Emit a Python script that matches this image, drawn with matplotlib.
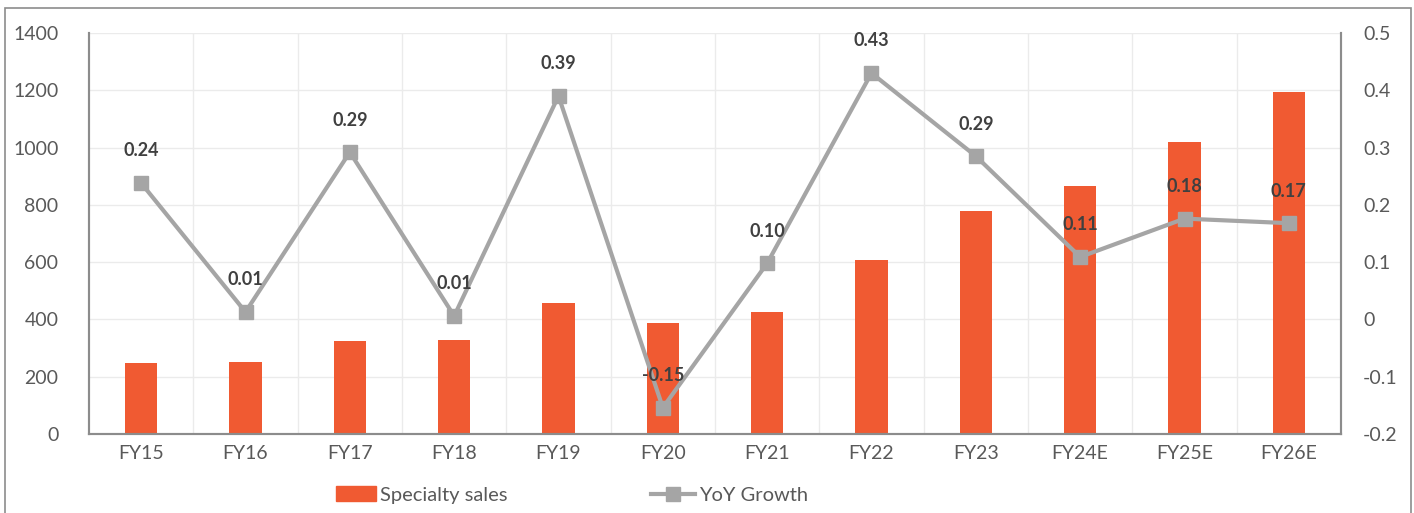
import matplotlib
matplotlib.use('Agg')
import matplotlib.pyplot as plt
import matplotlib.lines as mlines
import matplotlib.patches as mpatches
import numpy as np

plt.rcParams['font.family'] = ['Lato', 'DejaVu Sans']
plt.rcParams['axes.unicode_minus'] = False

# data
years = ['FY15', 'FY16', 'FY17', 'FY18', 'FY19', 'FY20', 'FY21', 'FY22', 'FY23', 'FY24E', 'FY25E', 'FY26E']
sales = [248, 252, 325, 328, 457, 387, 426, 607, 778, 866, 1019, 1194]
growth = [0.238, 0.013, 0.292, 0.006, 0.39, -0.154, 0.098, 0.43, 0.285, 0.109, 0.176, 0.168]
growth_labels = ['0.24', '0.01', '0.29', '0.01', '0.39', '-0.15', '0.10', '0.43', '0.29', '0.11', '0.18', '0.17']

bar_col = '#F05A32'
line_col = '#A5A5A5'
txt_col = '#595959'
grid_col = '#EBEBEB'

fig = plt.figure(figsize=(14.14, 5.13), dpi=100)
ax = fig.add_axes([89/1414, 79/513, (1341-89)/1414, (434-33)/513])
ax2 = ax.twinx()

x = np.arange(len(years))
ax.bar(x, sales, width=0.31, color=bar_col, zorder=2)
ax.set_ylim(0, 1400)
ax.set_yticks(range(0, 1401, 200))
ax.set_xlim(-0.5, len(years) - 0.5)
ax.set_xticks(x)
ax.set_xticklabels(years)

# light grid like the spreadsheet chart
for yy in range(200, 1401, 200):
    ax.axhline(yy, color=grid_col, lw=1, zorder=0)
for xx in np.arange(0.5, len(years) - 0.5, 1):
    ax.axvline(xx, color=grid_col, lw=1, zorder=0)

ax2.plot(x, growth, color=line_col, lw=3, marker='s', markersize=10, zorder=3)
ax2.set_ylim(-0.2, 0.5)
ax2.set_yticks([-0.2, -0.1, 0, 0.1, 0.2, 0.3, 0.4, 0.5])
ax2.set_yticklabels(['-0.2', '-0.1', '0', '0.1', '0.2', '0.3', '0.4', '0.5'])
for i in range(len(years)):
    ax2.annotate(growth_labels[i], (x[i], growth[i]), xytext=(0, 17),
                 textcoords='offset points', ha='center', va='bottom',
                 fontsize=13, fontweight='bold', color='#404040')

for a in [ax, ax2]:
    a.spines['top'].set_visible(False)
    for s in ['left', 'right', 'bottom']:
        a.spines[s].set_color('#8C8C8C')
        a.spines[s].set_linewidth(1.5)
    a.tick_params(axis='both', length=0, labelsize=14, labelcolor=txt_col, pad=8)
ax.tick_params(axis='y', pad=22)
ax2.tick_params(axis='y', pad=16)
ax.set_zorder(ax2.get_zorder() - 1)
ax2.patch.set_visible(False)
ax.patch.set_visible(False)

# legend under the chart
bar_h = mpatches.Patch(color=bar_col, label='Specialty sales')
line_h = mlines.Line2D([], [], color=line_col, lw=3, marker='s', markersize=10, label='YoY Growth')
fig.legend(handles=[bar_h], loc='center left', bbox_to_anchor=(318/1414, 18/513), frameon=False,
           fontsize=14.5, labelcolor=txt_col, handlelength=2.0, handletextpad=0.2)
fig.legend(handles=[line_h], loc='center left', bbox_to_anchor=(633/1414, 18/513), frameon=False,
           fontsize=14.5, labelcolor=txt_col, handlelength=2.2, handletextpad=0.2)

# outer chart frame
fig.patches.append(mpatches.Rectangle((5/1414, -0.01), 1406/1414, 1.01 - 8/513, transform=fig.transFigure,
                                      fill=False, edgecolor='#8C8C8C', lw=1.2))

fig.savefig('out.png', dpi=100)
